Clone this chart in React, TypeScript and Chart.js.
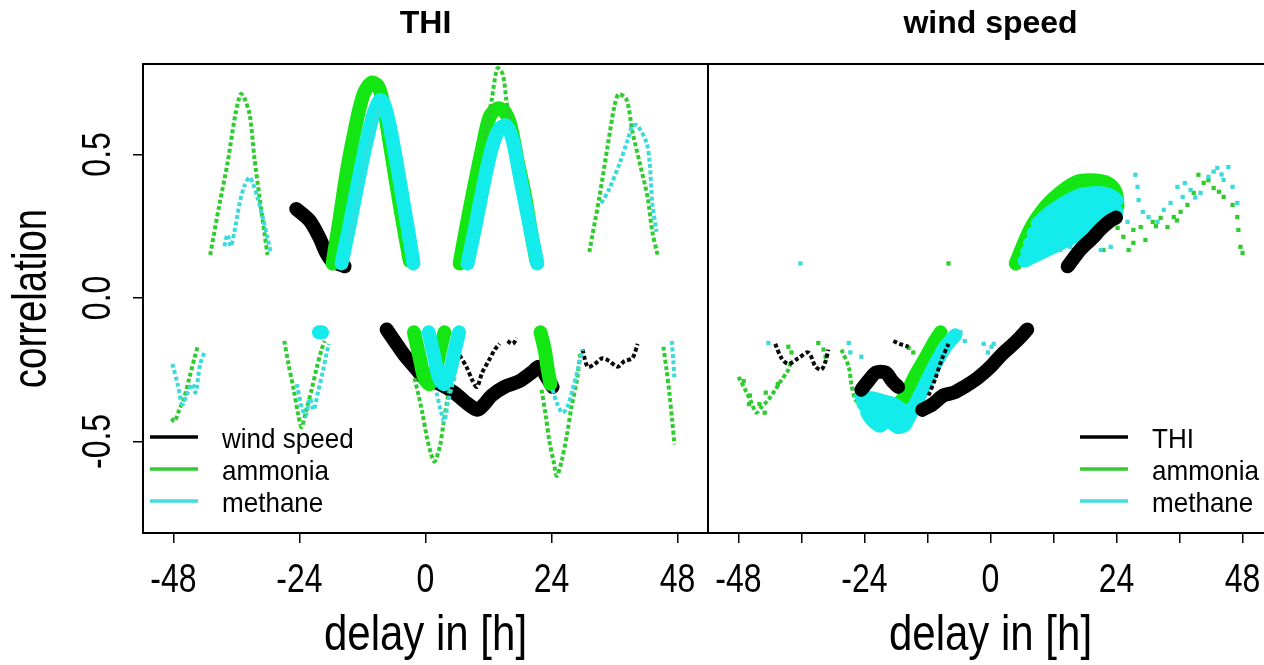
import React, { useEffect, useRef } from "react";
import { Chart, registerables } from "chart.js";
Chart.register(...registerables);

type Pt = [number, number];

// ---------------- texts / axes ----------------
const panelTitles = ["THI", "wind speed"];
const xAxisTitle = "delay in [h]";
const yAxisTitle = "correlation";
const xLabelValues = [-48, -24, 0, 24, 48];
const xLabelTexts = ["-48", "-24", "0", "24", "48"];
const xTicksLeft = [-48, -24, 0, 24, 48];
const xTicksRight = [-48, -36, -24, -12, 0, 12, 24, 36, 48];
const yTickValues = [-0.5, 0, 0.5];
const yTickTexts = ["-0.5", "0.0", "0.5"];
const legendLeftLabels = ["wind speed", "ammonia", "methane"];
const legendRightLabels = ["THI", "ammonia", "methane"];
const xRange = [-53.8, 53.8];
const yRange = [-0.819, 0.815];

// ---------------- panel 1: THI ----------------
const thiAmmoniaThin1: Pt[] = [[-41.0,0.15],[-39.2,0.33],[-37.7,0.47],[-36.2,0.64],[-35.2,0.71],[-34.6,0.70],[-33.5,0.64],[-32.6,0.49],[-31.6,0.35],[-30.7,0.23],[-30.1,0.15]];
const thiAmmoniaThin2: Pt[] = [[-48.4,-0.42],[-47.8,-0.43],[-46.9,-0.39],[-46.0,-0.35],[-45.0,-0.28],[-44.0,-0.21],[-43.4,-0.17]];
const thiAmmoniaThin3: Pt[] = [[-26.9,-0.15],[-26.1,-0.23],[-25.1,-0.32],[-24.2,-0.41],[-23.6,-0.45],[-22.7,-0.39],[-21.7,-0.32],[-20.8,-0.25],[-19.8,-0.18],[-19.2,-0.15]];
const thiAmmoniaThin4: Pt[] = [[11.2,0.55],[12.6,0.69],[13.7,0.80],[14.7,0.78],[15.4,0.69],[16.0,0.62]];
const thiAmmoniaThin5: Pt[] = [[31.2,0.16],[33.1,0.35],[34.7,0.53],[36.0,0.67],[36.8,0.71],[38.3,0.69],[39.4,0.58],[40.8,0.47],[42.3,0.35],[43.2,0.23],[44.2,0.15]];
const thiAmmoniaThin6: Pt[] = [[-2.1,-0.28],[-1.3,-0.34],[-0.6,-0.40],[0.2,-0.48],[1.0,-0.54],[1.7,-0.57],[2.7,-0.52],[3.4,-0.44],[4.2,-0.35],[5.0,-0.29]];
const thiAmmoniaThin7: Pt[] = [[22.1,-0.32],[22.9,-0.41],[23.6,-0.50],[24.4,-0.57],[25.0,-0.62],[25.9,-0.57],[26.9,-0.48],[27.8,-0.38],[28.8,-0.29],[29.5,-0.19]];
const thiAmmoniaThin8: Pt[] = [[45.3,-0.17],[45.9,-0.25],[46.5,-0.34],[47.0,-0.43],[47.4,-0.51]];
const thiAmmoniaThick1: Pt[] = [[-17.7,0.12],[-16.4,0.27],[-14.9,0.45],[-13.3,0.60],[-11.8,0.71],[-10.3,0.75],[-9.1,0.74],[-8.2,0.69],[-6.9,0.55],[-5.5,0.39],[-4.2,0.25],[-3.0,0.13]];
const thiAmmoniaThick2: Pt[] = [[6.5,0.12],[7.8,0.25],[9.3,0.39],[10.9,0.53],[12.2,0.63],[13.7,0.66],[15.0,0.65],[16.2,0.60],[17.5,0.48],[18.9,0.36],[20.0,0.24],[21.1,0.13]];
const thiAmmoniaThick3: Pt[] = [[-2.2,-0.12],[-1.2,-0.20],[-0.2,-0.28],[0.8,-0.30],[1.8,-0.26],[2.8,-0.18],[3.6,-0.12]];
const thiAmmoniaThick4: Pt[] = [[21.9,-0.12],[22.7,-0.18],[23.2,-0.24],[23.8,-0.30]];

const thiMethaneThin1: Pt[] = [[-38.3,0.18],[-37.7,0.22],[-37.1,0.18],[-36.4,0.23],[-35.4,0.33],[-34.5,0.39],[-33.5,0.42],[-32.9,0.40],[-32.0,0.35],[-31.0,0.28],[-30.1,0.21],[-29.5,0.16]];
const thiMethaneThin2: Pt[] = [[-48.2,-0.23],[-47.2,-0.30],[-46.3,-0.37],[-45.3,-0.33],[-44.4,-0.30],[-43.8,-0.33],[-42.9,-0.23],[-42.1,-0.19]];
const thiMethaneThin3: Pt[] = [[-24.5,-0.30],[-23.6,-0.38],[-22.8,-0.41],[-22.0,-0.35],[-21.3,-0.39],[-20.5,-0.33],[-19.6,-0.26],[-18.8,-0.19],[-18.4,-0.16]];
const thiMethaneThin4: Pt[] = [[-14.5,0.20],[-13.3,0.32],[-11.8,0.45],[-10.3,0.57],[-8.8,0.66]];
const thiMethaneThin5: Pt[] = [[33.5,0.33],[35.0,0.38],[37.0,0.47],[38.5,0.55],[39.4,0.60],[40.4,0.60],[42.1,0.54],[42.7,0.47],[43.2,0.33],[44.0,0.23]];
const thiMethaneThin6: Pt[] = [[2.1,-0.33],[3.0,-0.40],[3.6,-0.43],[4.2,-0.37],[5.0,-0.31],[5.7,-0.27]];
const thiMethaneThin7: Pt[] = [[24.2,-0.32],[25.1,-0.37],[26.1,-0.40],[27.0,-0.38],[28.0,-0.32],[29.0,-0.25],[29.9,-0.18]];
const thiMethaneThin8: Pt[] = [[46.9,-0.15],[47.2,-0.22],[47.4,-0.28]];
const thiMethaneThick1: Pt[] = [[-16.0,0.12],[-14.5,0.25],[-13.0,0.39],[-11.4,0.53],[-9.9,0.64],[-8.6,0.69],[-7.8,0.67],[-6.7,0.59],[-5.3,0.45],[-4.0,0.31],[-2.9,0.19],[-2.3,0.12]];
const thiMethaneThick2: Pt[] = [[8.0,0.12],[9.5,0.25],[11.0,0.39],[12.6,0.52],[14.1,0.59],[15.4,0.60],[16.6,0.55],[17.9,0.43],[19.2,0.31],[20.4,0.20],[21.3,0.12]];
const thiMethaneThick3: Pt[] = [[0.6,-0.12],[1.6,-0.20],[2.6,-0.28],[3.6,-0.30],[4.6,-0.26],[5.6,-0.18],[6.4,-0.12]];
const thiMethaneThick4: Pt[] = [[-20.3,-0.12],[-19.7,-0.12]];

const thiWindThick1: Pt[] = [[-24.6,0.31],[-22.1,0.27],[-20.2,0.21],[-19.0,0.16],[-17.9,0.13],[-15.4,0.11]];
const thiWindThick2: Pt[] = [[-7.4,-0.11],[-5.9,-0.15],[-4.0,-0.20],[-2.1,-0.24],[-0.2,-0.28],[2.7,-0.30],[5.5,-0.33],[7.4,-0.36],[9.9,-0.39],[11.2,-0.37],[12.6,-0.34],[15.0,-0.31],[17.9,-0.29],[20.2,-0.26],[21.7,-0.24],[23.2,-0.28],[24.2,-0.31]];
const thiWindThin1: Pt[] = [[6.5,-0.20],[7.8,-0.24],[9.0,-0.29],[9.8,-0.31],[10.8,-0.26],[12.0,-0.22],[13.2,-0.18],[14.1,-0.16]];
const thiWindThin2: Pt[] = [[15.6,-0.15],[16.6,-0.16],[17.4,-0.14]];
const thiWindThin3: Pt[] = [[29.9,-0.18],[30.9,-0.24],[32.2,-0.23],[33.7,-0.21],[35.0,-0.22],[36.6,-0.24],[37.9,-0.22],[39.4,-0.21],[40.4,-0.16]];

// ---------------- panel 2: wind speed ----------------
const windThiThick1: Pt[] = [[-24.6,-0.32],[-23.3,-0.29],[-21.8,-0.26],[-20.0,-0.26],[-18.7,-0.29],[-17.6,-0.31]];
const windThiThick2: Pt[] = [[-13.0,-0.39],[-11.0,-0.37],[-9.0,-0.34],[-7.0,-0.33],[-5.0,-0.31],[-2.5,-0.28],[0.0,-0.24],[2.0,-0.20],[3.8,-0.17],[5.5,-0.14],[7.0,-0.11]];
const windThiThick3: Pt[] = [[14.7,0.11],[17.2,0.17],[19.5,0.21],[21.0,0.24],[22.9,0.27],[23.9,0.28]];
const windThiThin1: Pt[] = [[-41.0,-0.16],[-39.8,-0.21],[-38.5,-0.23],[-36.6,-0.21],[-34.7,-0.19],[-33.3,-0.24],[-32.2,-0.25],[-31.4,-0.22],[-30.9,-0.18]];
const windThiThin2: Pt[] = [[-18.5,-0.15],[-17.3,-0.16],[-15.6,-0.17]];
const windThiThin3: Pt[] = [[-11.8,-0.34],[-10.5,-0.28],[-9.2,-0.21],[-8.0,-0.16]];

const windAmmoniaThick1: Pt[] = [[4.8,0.12],[7.6,0.24],[10.6,0.32],[13.5,0.37],[16.6,0.405],[19.5,0.41],[22.3,0.40],[23.8,0.37],[24.2,0.32]];
const windAmmoniaThick2: Pt[] = [[-17.6,-0.37],[-16.2,-0.34],[-14.3,-0.27],[-12.4,-0.21],[-10.9,-0.16],[-9.5,-0.12]];
const windAmmoniaThin1: Pt[] = [[-48.0,-0.275],[-46.7,-0.32],[-45.5,-0.366],[-44.6,-0.40],[-43.6,-0.38],[-42.3,-0.355],[-41.0,-0.32],[-39.8,-0.286],[-38.5,-0.25],[-37.9,-0.216]];
const windAmmoniaThin2: Pt[] = [[-28.4,-0.18],[-27.0,-0.24],[-26.5,-0.30],[-25.7,-0.355],[-24.6,-0.366],[-22.7,-0.355],[-20.8,-0.345],[-18.9,-0.355]];
const windAmmoniaDots1: Pt[] = [[24.2,0.244],[25.3,0.213],[26.3,0.167],[27.2,0.237],[28.6,0.247],[29.5,0.202],[30.9,0.265],[32.4,0.279],[33.7,0.247],[34.9,0.282],[36.2,0.300],[37.5,0.324],[38.7,0.366],[39.6,0.429],[40.6,0.401],[42.5,0.383],[44.4,0.352],[46.1,0.324],[47.0,0.282],[47.2,0.237],[47.6,0.178],[48.0,0.157],[27.2,0.192],[21.5,0.167],[19.6,0.192],[17.7,0.202],[16.6,0.167],[31.5,0.25],[35.5,0.27],[41.5,0.41],[43.5,0.37]];
const windAmmoniaDots2: Pt[] = [[-8.0,0.12],[-38.5,-0.17],[-37.9,-0.19],[-32.8,-0.157],[-31.8,-0.18],[-31.4,-0.205],[-15.6,-0.174],[-14.7,-0.19],[-47.0,-0.29],[-45.8,-0.34],[-44.0,-0.37],[-42.8,-0.33],[-40.5,-0.30],[-46.0,-0.37],[-43.0,-0.40]];

const windMethaneThick1: Pt[] = [[6.5,0.13],[9.9,0.16],[13.3,0.19],[16.6,0.22],[20.0,0.26],[23.0,0.29],[24.0,0.30]];
const windMethaneThick2: Pt[] = [[7.0,0.16],[10.2,0.195],[13.4,0.23],[16.6,0.26],[20.0,0.295],[23.2,0.315]];
const windMethaneThick3: Pt[] = [[7.5,0.19],[10.5,0.23],[13.5,0.27],[16.6,0.30],[20.0,0.33],[23.5,0.34]];
const windMethaneThick4: Pt[] = [[8.2,0.225],[11.0,0.265],[13.8,0.30],[16.6,0.33],[19.8,0.35],[23.5,0.35]];
const windMethaneThick5: Pt[] = [[9.0,0.26],[11.5,0.30],[14.0,0.33],[16.6,0.355],[19.5,0.365],[22.5,0.36],[24.0,0.34]];
const windMethaneThick6: Pt[] = [[-16.2,-0.44],[-14.3,-0.37],[-12.4,-0.30],[-10.5,-0.23],[-8.6,-0.17],[-6.7,-0.13]];
const windMethaneThick7: Pt[] = [[-24.6,-0.345],[-22.5,-0.35],[-20.5,-0.36],[-18.5,-0.37],[-16.8,-0.39]];
const windMethaneThick8: Pt[] = [[-24.2,-0.37],[-22.5,-0.39],[-20.5,-0.40],[-18.5,-0.405],[-16.5,-0.42]];
const windMethaneThick9: Pt[] = [[-23.5,-0.40],[-22.3,-0.43],[-21.0,-0.445],[-19.8,-0.425],[-18.8,-0.435],[-17.6,-0.45],[-16.5,-0.445]];
const windMethaneDots1: Pt[] = [[24.8,0.282],[26.1,0.265],[27.6,0.429],[28.0,0.387],[28.2,0.341],[29.0,0.300],[30.1,0.282],[31.8,0.265],[33.0,0.307],[34.3,0.331],[35.6,0.387],[36.6,0.352],[38.1,0.376],[40.0,0.366],[41.5,0.422],[43.2,0.453],[44.4,0.411],[45.3,0.456],[46.1,0.387],[47.0,0.331],[13.3,0.167],[15.2,0.178],[17.1,0.160],[21.0,0.167],[22.9,0.178],[37.0,0.40],[39.0,0.35],[42.5,0.44],[44.0,0.43]];
const windMethaneDots2: Pt[] = [[-36.2,0.12],[-42.3,-0.157],[-27.0,-0.157],[-26.7,-0.19],[-24.6,-0.205],[-5.7,-0.12],[-4.9,-0.15],[-1.3,-0.16],[-0.5,-0.19],[0.2,-0.17],[0.6,-0.16]];

// ---------------- styling ----------------
type Series = "black" | "green" | "cyan";
type Kind = "thick" | "thin" | "dots";
type Seg = { pts: Pt[]; series: Series; kind: Kind };

const COLORS: Record<Series, { thick: string; thin: string; legend: string }> = {
  black: { thick: "#000000", thin: "#0a0a0a", legend: "#000000" },
  green: { thick: "#14e614", thin: "#2fcc2f", legend: "#30cc30" },
  cyan: { thick: "#14ecec", thin: "#3cdada", legend: "#40dede" },
};

const leftSegments: Seg[] = [
  { pts: thiWindThick1, series: "black", kind: "thick" },
  { pts: thiWindThick2, series: "black", kind: "thick" },
  { pts: thiWindThin1, series: "black", kind: "thin" },
  { pts: thiWindThin2, series: "black", kind: "thin" },
  { pts: thiWindThin3, series: "black", kind: "thin" },
  { pts: thiAmmoniaThick1, series: "green", kind: "thick" },
  { pts: thiAmmoniaThick2, series: "green", kind: "thick" },
  { pts: thiAmmoniaThick3, series: "green", kind: "thick" },
  { pts: thiAmmoniaThick4, series: "green", kind: "thick" },
  { pts: thiAmmoniaThin1, series: "green", kind: "thin" },
  { pts: thiAmmoniaThin2, series: "green", kind: "thin" },
  { pts: thiAmmoniaThin3, series: "green", kind: "thin" },
  { pts: thiAmmoniaThin4, series: "green", kind: "thin" },
  { pts: thiAmmoniaThin5, series: "green", kind: "thin" },
  { pts: thiAmmoniaThin6, series: "green", kind: "thin" },
  { pts: thiAmmoniaThin7, series: "green", kind: "thin" },
  { pts: thiAmmoniaThin8, series: "green", kind: "thin" },
  { pts: thiMethaneThick1, series: "cyan", kind: "thick" },
  { pts: thiMethaneThick2, series: "cyan", kind: "thick" },
  { pts: thiMethaneThick3, series: "cyan", kind: "thick" },
  { pts: thiMethaneThick4, series: "cyan", kind: "thick" },
  { pts: thiMethaneThin1, series: "cyan", kind: "thin" },
  { pts: thiMethaneThin2, series: "cyan", kind: "thin" },
  { pts: thiMethaneThin3, series: "cyan", kind: "thin" },
  { pts: thiMethaneThin4, series: "cyan", kind: "thin" },
  { pts: thiMethaneThin5, series: "cyan", kind: "thin" },
  { pts: thiMethaneThin6, series: "cyan", kind: "thin" },
  { pts: thiMethaneThin7, series: "cyan", kind: "thin" },
  { pts: thiMethaneThin8, series: "cyan", kind: "thin" },
];

const rightSegments: Seg[] = [
  { pts: windAmmoniaThick1, series: "green", kind: "thick" },
  { pts: windAmmoniaThick2, series: "green", kind: "thick" },
  { pts: windAmmoniaThin1, series: "green", kind: "thin" },
  { pts: windAmmoniaThin2, series: "green", kind: "thin" },
  { pts: windAmmoniaDots1, series: "green", kind: "dots" },
  { pts: windAmmoniaDots2, series: "green", kind: "dots" },
  { pts: windMethaneThick1, series: "cyan", kind: "thick" },
  { pts: windMethaneThick2, series: "cyan", kind: "thick" },
  { pts: windMethaneThick3, series: "cyan", kind: "thick" },
  { pts: windMethaneThick4, series: "cyan", kind: "thick" },
  { pts: windMethaneThick5, series: "cyan", kind: "thick" },
  { pts: windMethaneThick6, series: "cyan", kind: "thick" },
  { pts: windMethaneThick7, series: "cyan", kind: "thick" },
  { pts: windMethaneThick8, series: "cyan", kind: "thick" },
  { pts: windMethaneThick9, series: "cyan", kind: "thick" },
  { pts: windMethaneDots1, series: "cyan", kind: "dots" },
  { pts: windMethaneDots2, series: "cyan", kind: "dots" },
  { pts: windThiThick1, series: "black", kind: "thick" },
  { pts: windThiThick2, series: "black", kind: "thick" },
  { pts: windThiThick3, series: "black", kind: "thick" },
  { pts: windThiThin1, series: "black", kind: "thin" },
  { pts: windThiThin2, series: "black", kind: "thin" },
  { pts: windThiThin3, series: "black", kind: "thin" },
];

function toDataset(seg: Seg, index: number, total: number): any {
  const c = seg.kind === "thick" ? COLORS[seg.series].thick : COLORS[seg.series].thin;
  const base: any = {
    data: seg.pts.map(([x, y]) => ({ x, y })),
    borderColor: c,
    backgroundColor: c,
    order: total - index, // later segments are drawn on top
  };
  if (seg.kind === "thick")
    return { ...base, showLine: true, borderWidth: 14, pointRadius: 0, tension: 0.3, borderCapStyle: "round", borderJoinStyle: "round" };
  if (seg.kind === "thin")
    return { ...base, showLine: true, borderWidth: 4, borderDash: [4, 2.5], pointRadius: 0, tension: 0.3 };
  return { ...base, showLine: false, pointRadius: 3, pointStyle: "rect", borderWidth: 0 };
}

const FONT = '"Liberation Sans", Arial, Helvetica, sans-serif';

function txt(ctx: CanvasRenderingContext2D, s: string, x: number, y: number, size: number, sx: number, rot = 0, bold = false, align: CanvasTextAlign = "center") {
  ctx.save();
  ctx.translate(x, y);
  if (rot) ctx.rotate(rot);
  ctx.scale(sx, 1);
  ctx.font = `${bold ? "bold " : ""}${size}px ${FONT}`;
  ctx.textAlign = align;
  ctx.textBaseline = "alphabetic";
  ctx.fillStyle = "#000";
  ctx.fillText(s, 0, 0);
  ctx.restore();
}

function decor(panel: number) {
  return {
    id: "decor" + panel,
    afterDraw(chart: any) {
      const { ctx, chartArea: a } = chart;
      const xs = chart.scales.x;
      const ys = chart.scales.y;
      ctx.save();
      ctx.setLineDash([]);
      ctx.strokeStyle = "#000";
      ctx.lineWidth = 2;
      ctx.strokeRect(a.left, a.top, a.right - a.left, a.bottom - a.top);
      const cx = (a.left + a.right) / 2;
      txt(ctx, panelTitles[panel], cx, 33, 32, 1, 0, true);
      xLabelValues.forEach((v, i) => txt(ctx, xLabelTexts[i], xs.getPixelForValue(v), 592, 40, 0.8));
      txt(ctx, xAxisTitle, cx, 650, 50, 0.84);
      if (panel === 0) {
        yTickValues.forEach((v, i) => txt(ctx, yTickTexts[i], 110, ys.getPixelForValue(v), 40, 0.8, -Math.PI / 2));
        txt(ctx, yAxisTitle, 46, (a.top + a.bottom) / 2, 48, 0.8, -Math.PI / 2);
      }
      const labels = panel === 0 ? legendLeftLabels : legendRightLabels;
      const cols = [COLORS.black.legend, COLORS.green.legend, COLORS.cyan.legend];
      const lx = panel === 0 ? a.left + 7 : a.right - 193;
      labels.forEach((lab, i) => {
        const y = 437 + i * 32;
        ctx.strokeStyle = cols[i];
        ctx.lineWidth = 3.5;
        ctx.beginPath();
        ctx.moveTo(lx, y);
        ctx.lineTo(lx + 48, y);
        ctx.stroke();
        txt(ctx, lab, lx + 72, y + 11, 28, 0.93, 0, false, "left");
      });
      ctx.restore();
    },
  };
}

function makeConfig(panel: number): any {
  const segs = panel === 0 ? leftSegments : rightSegments;
  const gridOpts = { drawOnChartArea: false, drawTicks: true, tickLength: 10, color: "#000", lineWidth: 1.5 };
  return {
    type: "scatter",
    data: { datasets: segs.map((s, i) => toDataset(s, i, segs.length)) },
    options: {
      animation: false,
      responsive: false,
      maintainAspectRatio: false,
      events: [],
      layout: { padding: panel === 0 ? { top: 64, right: 12, left: 0, bottom: 0 } : { top: 64, right: 27, left: 8, bottom: 0 } },
      plugins: { legend: { display: false }, tooltip: { enabled: false }, title: { display: false } },
      scales: {
        x: {
          type: "linear",
          min: xRange[0],
          max: xRange[1],
          afterBuildTicks: (s: any) => {
            s.ticks = (panel === 0 ? xTicksLeft : xTicksRight).map((v) => ({ value: v }));
          },
          afterFit: (s: any) => {
            s.height = 132;
          },
          ticks: { display: false },
          grid: gridOpts,
          border: { display: false },
        },
        y: {
          type: "linear",
          display: panel === 0,
          min: yRange[0],
          max: yRange[1],
          afterBuildTicks: (s: any) => {
            s.ticks = yTickValues.map((v) => ({ value: v }));
          },
          afterFit: (s: any) => {
            s.width = panel === 0 ? 143 : 0;
          },
          ticks: { display: false },
          grid: gridOpts,
          border: { display: false },
        },
      },
    },
    plugins: [decor(panel)],
  };
}

export default function App() {
  const leftRef = useRef<HTMLCanvasElement>(null);
  const rightRef = useRef<HTMLCanvasElement>(null);
  useEffect(() => {
    const c1 = new Chart(leftRef.current as HTMLCanvasElement, makeConfig(0));
    const c2 = new Chart(rightRef.current as HTMLCanvasElement, makeConfig(1));
    return () => {
      c1.destroy();
      c2.destroy();
    };
  }, []);
  return (
    <div style={{ position: "fixed", left: 0, top: 0, width: 1264, height: 665, overflow: "hidden", background: "#fff" }}>
      <canvas ref={leftRef} width={720} height={665} style={{ position: "absolute", left: 0, top: 0, width: 720, height: 665 }} />
      <canvas ref={rightRef} width={600} height={665} style={{ position: "absolute", left: 700, top: 0, width: 600, height: 665 }} />
    </div>
  );
}
